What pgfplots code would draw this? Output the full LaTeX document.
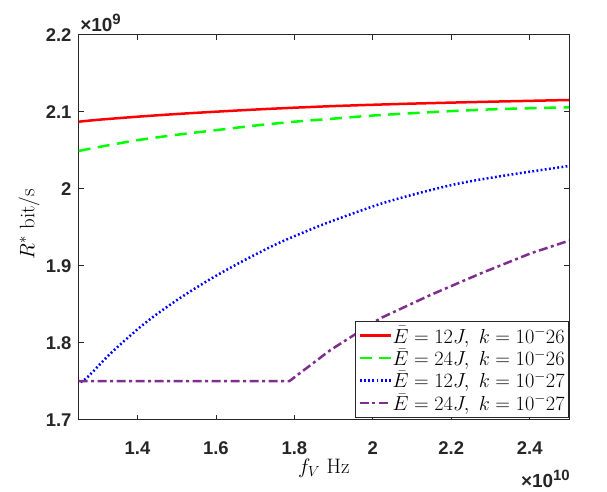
\RequirePackage{fix-cm}
\documentclass[border=0pt]{standalone}
\usepackage{pgfplots}
\pgfplotsset{compat=1.18}
\usepackage{fontspec}
\setsansfont{Liberation Sans}
\definecolor{mpurple}{rgb}{0.494,0.184,0.556}
\definecolor{axgray}{rgb}{0.15,0.15,0.15}
\begin{document}
\begin{tikzpicture}
\path[use as bounding box] (0bp,0bp) rectangle (607bp,492bp);
\begin{axis}[
  at={(78.6bp,72.3bp)}, anchor=south west,
  scale only axis, width=490.4bp, height=385bp,
  xmin=1.25, xmax=2.5, ymin=1.7, ymax=2.2,
  xtick={1.4,1.6,1.8,2,2.2,2.4}, xticklabels={1.4,1.6,1.8,2,2.2,2.4},
  ytick={1.7,1.8,1.9,2,2.1,2.2}, yticklabels={1.7,1.8,1.9,2,2.1,2.2},
  tick align=inside, major tick length=5bp,
  axis line style={axgray, line width=0.7bp},
  every tick/.style={axgray, line width=0.7bp},
  ticklabel style={font=\sffamily\bfseries\fontsize{18.5}{18.5}\selectfont, text=axgray, inner sep=0pt},
  xticklabel style={anchor=north, yshift=-22bp},
  yticklabel style={anchor=east, xshift=-7bp},
  xlabel={$f_V\ \mathrm{Hz}$},
  ylabel={$R^*\ \mathrm{bit/s}$},
  label style={font=\fontsize{21}{21}\selectfont},
  xlabel style={at={(axis description cs:0.5,-0.1255)}, anchor=center},
  ylabel style={at={(axis description cs:-0.101,0.508)}, anchor=center, rotate=0},
  legend style={at={(1,0)}, anchor=south east, yshift=2.5bp, draw=axgray, line width=0.6bp, fill=white,
    font=\fontsize{20.4}{22}\selectfont, inner xsep=3.5bp, inner ysep=4.5bp,
    row sep=3.2bp, nodes={inner sep=0.6bp}},
  legend cell align=left,
  legend image code/.code={\draw[#1] (0bp,0bp) -- (31bp,0bp);},
  clip mode=individual,
]
\addplot[red, line width=2.5bp, smooth] coordinates {
(1.25,2.087) (1.30,2.0895) (1.40,2.0935) (1.50,2.097) (1.60,2.100) (1.70,2.1028) (1.80,2.1052)
(1.90,2.1073) (2.00,2.109) (2.10,2.1105) (2.20,2.1118) (2.30,2.1130) (2.40,2.1141) (2.50,2.1152)};
\addlegendentry{$\bar{E}=12J,\ k=10^-26$}
\addplot[green, line width=2.5bp, smooth, dash pattern=on 12bp off 7.5bp] coordinates {
(1.25,2.049) (1.30,2.054) (1.40,2.063) (1.50,2.070) (1.60,2.076) (1.70,2.082) (1.80,2.087)
(1.90,2.091) (2.00,2.095) (2.10,2.098) (2.20,2.1008) (2.30,2.103) (2.40,2.1045) (2.50,2.1057)};
\addlegendentry{$\bar{E}=24J,\ k=10^-26$}
\addplot[blue, line width=2.5bp, smooth, dash pattern=on 1.8bp off 2.4bp] coordinates {
(1.255,1.749) (1.274,1.7558) (1.3335,1.787) (1.4187,1.8252) (1.5038,1.8564) (1.5888,1.8835)
(1.674,1.9075) (1.759,1.9292) (1.844,1.9476) (1.908,1.9603) (2.024,1.981) (2.13,1.996)
(2.231,2.008) (2.36,2.019) (2.5,2.0295)};
\addlegendentry{$\bar{E}=12J,\ k=10^-27$}
\addplot[mpurple, line width=2.5bp, dash pattern=on 9bp off 3.5bp on 3bp off 3.5bp] coordinates {
(1.25,1.75) (1.50,1.75) (1.787,1.75) (1.892,1.7905) (2.019,1.8317) (2.147,1.862)
(2.275,1.890) (2.402,1.916) (2.5,1.9325)};
\addlegendentry{$\bar{E}=24J,\ k=10^-27$}
\node[anchor=base west, inner sep=0pt, text=axgray, font=\sffamily\bfseries\fontsize{19}{19}\selectfont]
  at (axis description cs:0.003,1.0096) {×10\raisebox{7bp}{\fontsize{15}{15}\selectfont 9}};
\node[anchor=base east, inner sep=0pt, text=axgray, font=\sffamily\bfseries\fontsize{19}{19}\selectfont]
  at (axis description cs:1.002,-0.177) {×10\raisebox{7bp}{\fontsize{15}{15}\selectfont 10}};
\end{axis}
\end{tikzpicture}
\end{document}
